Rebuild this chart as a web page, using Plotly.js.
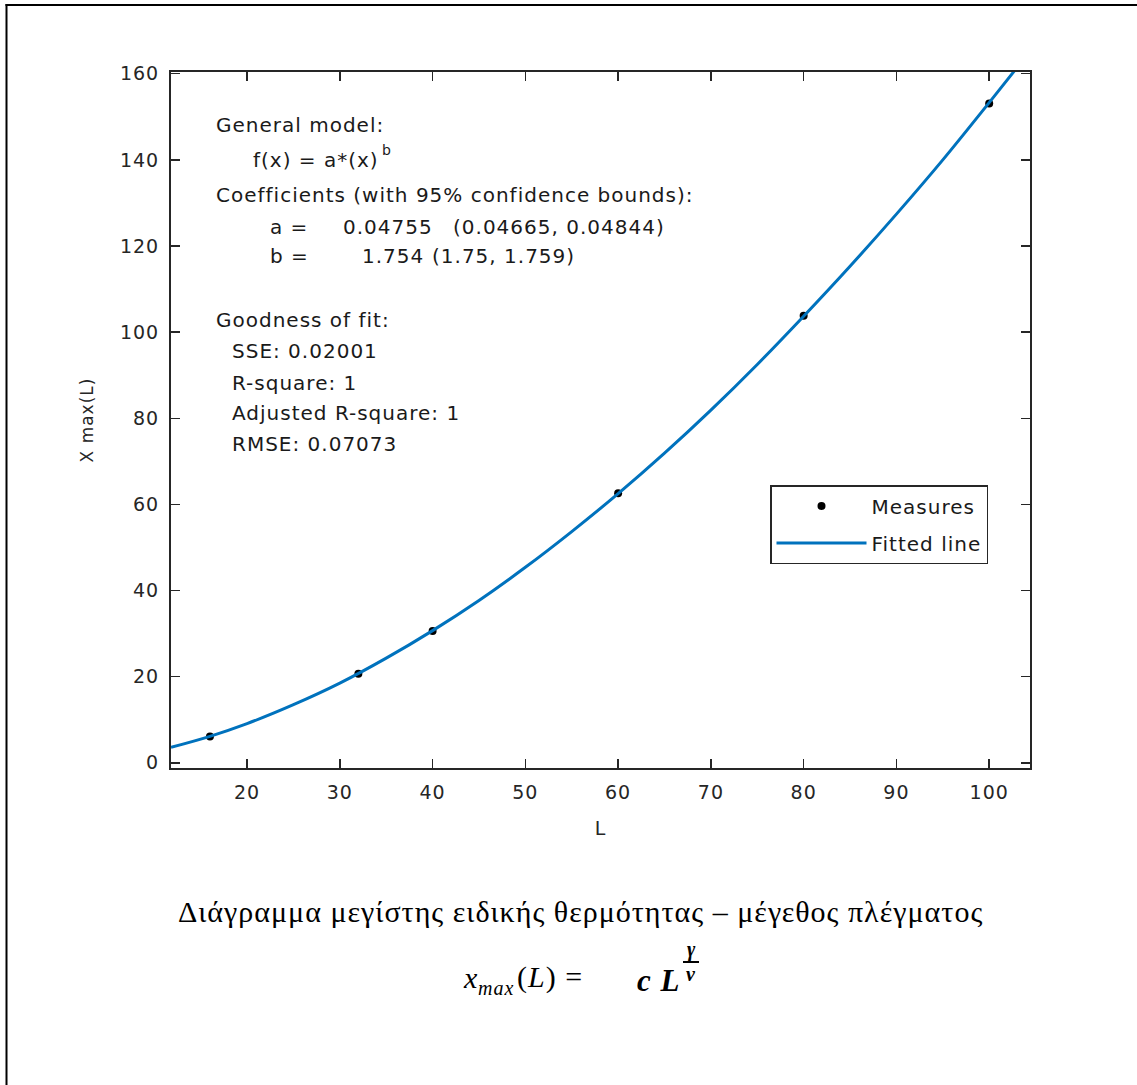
<!DOCTYPE html>
<html>
<head>
<meta charset="utf-8">
<script src="https://cdn.plot.ly/plotly-3.0.1.min.js"></script>
<style>
  html, body { margin: 0; padding: 0; background: #fff; }
  #chart { width: 1137px; height: 1085px; }
  text { letter-spacing: 1px; }
</style>
</head>
<body>
<div id="chart"></div>
<script>
// ---- Data ----
var measureL = [16, 32, 40, 60, 80, 100];
var measureX = [6.1, 20.7, 30.6, 62.6, 103.8, 153.1];

var fitL = [11.8, 16, 20, 25, 30, 35, 40, 45, 50, 55, 60, 65, 70, 75, 80, 85, 90, 95, 100, 102.7];
var fitX = [3.6, 6.15, 9.1, 13.5, 18.5, 24.3, 30.7, 37.7, 45.4, 53.7, 62.5, 71.9, 81.9, 92.5, 103.7, 115.3, 127.4, 140.0, 153.3, 160.6];

var xTicks = [20, 30, 40, 50, 60, 70, 80, 90, 100];
var yTicks = [0, 20, 40, 60, 80, 100, 120, 140, 160];

var fitInfoLines = [
  "General model:",
  "f(x) = a*(x)",
  "Coefficients (with 95% confidence bounds):",
  "Goodness of fit:",
  "SSE: 0.02001",
  "R-square: 1",
  "Adjusted R-square: 1",
  "RMSE: 0.07073"
];
var modelExponent = "b";
var coefRows = [
  ["a =", "0.04755", "(0.04665, 0.04844)"],
  ["b =", "1.754", "(1.75, 1.759)"]
];
var captionText = "Διάγραμμα μεγίστης ειδικής θερμότητας – μέγεθος πλέγματος";

// ---- Layout helpers (pixel -> paper) ----
var W = 1137, H = 1085;
var PL = 171, PR = 1030, PT = 72, PB = 768;
function px(x) { return (x - PL) / (PR - PL); }
function py(y) { return (PB - y) / (PB - PT); }

var sans = "DejaVu Sans, Arial, sans-serif";
var serif = "Liberation Serif, Times New Roman, serif";
var txtColor = "#1a1a1a";

var annotations = [];
function addText(text, x, y, opts) {
  opts = opts || {};
  annotations.push({
    text: text, x: px(x), y: py(y), xref: "paper", yref: "paper",
    xanchor: opts.xanchor || "left", yanchor: "middle", showarrow: false,
    borderpad: 0,
    font: {
      family: opts.family || sans, size: opts.size || 20, color: opts.color || txtColor,
      weight: opts.weight || "normal", style: opts.style || "normal"
    }
  });
}

// caption + formula below the chart
addText(captionText, 580, 911, { family: serif, size: 30, color: "#000", xanchor: "center" });
addText("x", 462, 977, { family: serif, size: 30, color: "#000", style: "italic" });
addText("max", 477, 988, { family: serif, size: 20, color: "#000", style: "italic" });
addText("(<i>L</i>) =", 516, 977, { family: serif, size: 30, color: "#000" });
addText("c L", 636, 980, { family: serif, size: 31, color: "#000", weight: "bold", style: "italic" });
addText("γ", 691, 949, { family: serif, size: 20, color: "#000", xanchor: "center", weight: "bold", style: "italic" });
addText("ν", 691, 974, { family: serif, size: 20, color: "#000", xanchor: "center", weight: "bold", style: "italic" });

// fit info text block
var infoPos = [[215, 125], [252, 160], [215, 195], [215, 320], [231, 351], [231, 383], [231, 413], [231, 444]];
fitInfoLines.forEach(function (t, i) { addText(t, infoPos[i][0], infoPos[i][1]); });
addText(modelExponent, 381, 150, { size: 14 });
var coefY = [227, 256];
var coefX = [[269, 342, 452], [269, 361, 431]];
coefRows.forEach(function (row, i) {
  row.forEach(function (t, j) { addText(t, coefX[i][j], coefY[i]); });
});

var shapes = [
  // fraction bar
  { type: "line", xref: "paper", yref: "paper", x0: px(683), x1: px(699), y0: py(962), y1: py(962), line: { color: "#000", width: 2 } },
  // outer frame (left and top edges visible)
  { type: "line", xref: "paper", yref: "paper", x0: px(6.5), x1: px(6.5), y0: py(4), y1: py(1090), line: { color: "#000", width: 2 } },
  { type: "line", xref: "paper", yref: "paper", x0: px(5.5), x1: px(1140), y0: py(5), y1: py(5), line: { color: "#000", width: 2 } }
];

var traces = [
  {
    type: "scatter", mode: "markers", name: "Measures",
    x: measureL, y: measureX,
    marker: { color: "#000", size: 8 },
    legendgroup: "m"
  },
  {
    type: "scatter", mode: "lines", name: "Fitted line",
    x: fitL, y: fitX,
    line: { color: "#0072BD", width: 3, shape: "spline" },
    legendgroup: "f"
  }
];

var axisCommon = {
  showline: true, linecolor: "#262626", linewidth: 2, mirror: "allticks",
  ticks: "inside", ticklen: 9, tickwidth: 1.5, tickcolor: "#262626",
  showgrid: false, zeroline: false,
  tickfont: { family: sans, size: 19, color: "#262626" }
};

var layout = {
  width: W, height: H,
  paper_bgcolor: "#fff", plot_bgcolor: "#fff",
  margin: { l: PL, r: W - PR, t: PT, b: H - PB, pad: 0 },
  showlegend: true,
  xaxis: Object.assign({}, axisCommon, {
    range: [11.8, 104.4], tickvals: xTicks, ticklabelstandoff: 6,
    title: { text: "L", font: { family: sans, size: 19, color: "#262626" }, standoff: 20 }
  }),
  yaxis: Object.assign({}, axisCommon, {
    range: [-1.2, 160.4], tickvals: yTicks, ticklabelstandoff: 6,
    title: { text: "X max(L)", font: { family: sans, size: 17, color: "#262626" }, standoff: 22 }
  }),
  legend: {
    x: px(770), y: py(485), xanchor: "left", yanchor: "top",
    bgcolor: "#fff", bordercolor: "#262626", borderwidth: 1.5,
    font: { family: sans, size: 20, color: "#1a1a1a" },
    traceorder: "grouped", tracegroupgap: 8, itemwidth: 90
  },
  annotations: annotations,
  shapes: shapes
};

Plotly.newPlot("chart", traces, layout, { displayModeBar: false, staticPlot: true });
</script>
</body>
</html>
